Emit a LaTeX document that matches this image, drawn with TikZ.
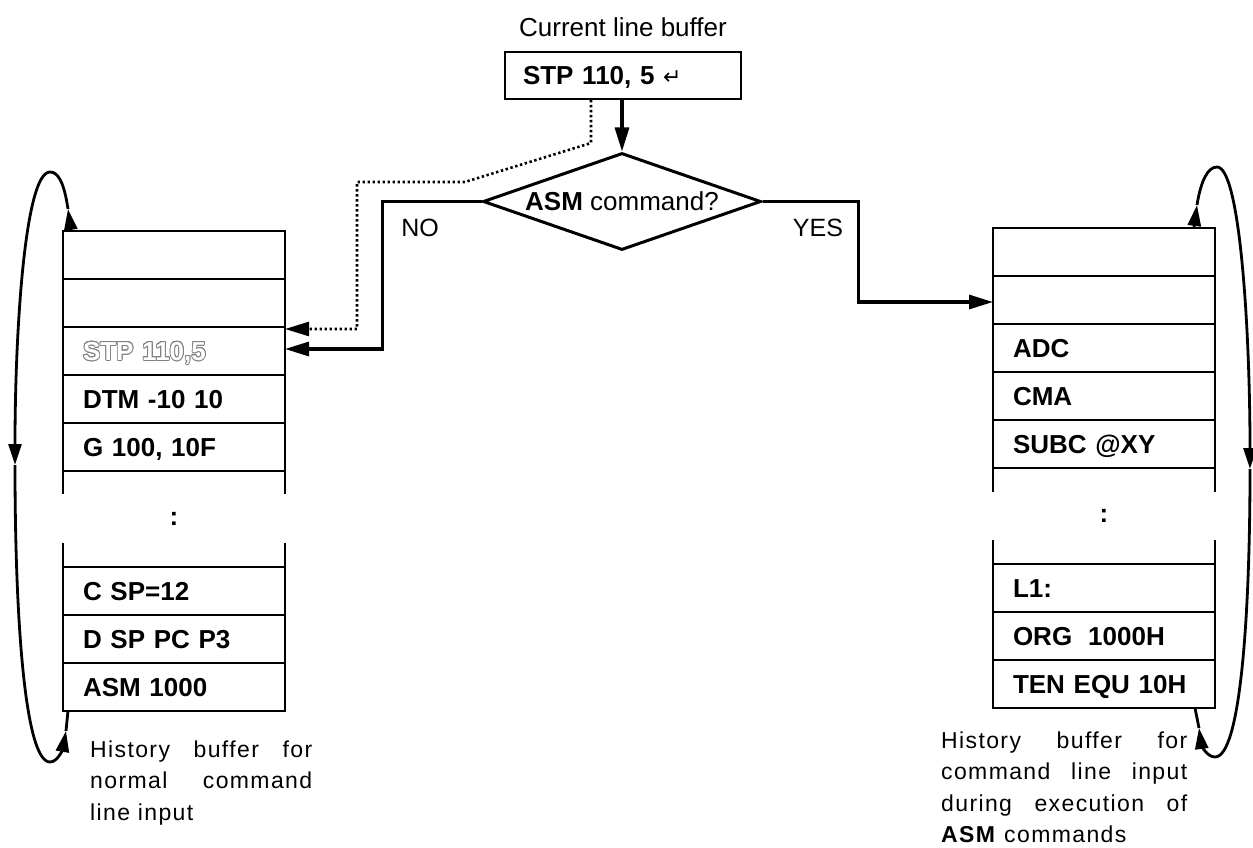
\documentclass[tikz,border=0pt]{standalone}
\usepackage{fontspec}
\setmainfont{Liberation Sans}
\newfontfamily\dvfont{DejaVu Sans}
\usepackage{contour}
\contourlength{0.8pt}
\usetikzlibrary{shapes.geometric,arrows.meta,calc}
\begin{document}
\begin{tikzpicture}[x=1pt,y=-1pt,
  row/.style={draw, line width=2pt, rectangle, minimum height=48pt, text width=182pt,
    inner xsep=20pt, inner ysep=0pt, align=left, font=\bfseries\fontsize{26}{30}\selectfont,
    text height=18.6pt, text depth=0pt, outer sep=0pt},
  gaprow/.style={draw, line width=2pt, rectangle, minimum height=96pt, minimum width=222pt, inner sep=0pt, outer sep=0pt},
  colon/.style={font=\bfseries\fontsize{26}{30}\selectfont, inner sep=0pt},
  arr/.style={line width=3.2pt, -{Triangle[length=24pt,width=14pt]}},
  dotarr/.style={line width=2.6pt, dash pattern=on 2.4pt off 2.6pt, -{Triangle[length=24pt,width=14pt]}},
  lbl/.style={font=\fontsize{25}{28}\selectfont, inner sep=0pt},
  lab/.style={font=\fontsize{23}{31.5}\selectfont\addfontfeatures{LetterSpace=6}, inner sep=0pt},
  loopline/.style={line width=2.8pt},
  looparr/.style={line width=2.8pt, -{Triangle[length=21pt,width=13pt]}}
]
\useasboundingbox (0,0) rectangle (1253,848);

% current line buffer
\node[lbl, anchor=base, font=\fontsize{26}{30}\selectfont] (title) at (623,37) {Current line buffer};
\node[draw, line width=2pt, rectangle, minimum width=236pt, minimum height=47pt, text width=200pt,
  inner xsep=18pt, inner ysep=0pt, align=left, font=\bfseries\fontsize{26}{30}\selectfont,
  text height=18.6pt, text depth=0pt] (cur) at (623,75.5)
  {STP 110, 5 {\dvfont\mdseries\fontsize{22}{24}\selectfont ↵}};

% decision
\node[draw, diamond, aspect=2.87, minimum width=278pt, minimum height=97pt, inner sep=0pt,
  line width=3pt, font=\fontsize{26}{30}\selectfont] (dia) at (622,201.5) {\textbf{ASM} command?};

% left stack
\node[row] (L1) at (174,255) {};
\node[row] (L2) at (174,303) {};
\node[row] (L3) at (174,351) {\contour{gray}{\textcolor{white}{STP 110,5}}};
\node[row] (L4) at (174,399) {DTM -10 10};
\node[row] (L5) at (174,447) {G 100, 10F};
\node[gaprow] (Lg) at (174,519) {};
\fill[white] ($(Lg.west)+(-4,-25)$) rectangle ($(Lg.east)+(4,24)$);
\node[colon] (Lc) at (Lg.center) {:};
\node[row] (L6) at (174,591) {C SP=12};
\node[row] (L7) at (174,639) {D SP PC P3};
\node[row] (L8) at (174,687) {ASM 1000};

% right stack
\node[row] (R1) at (1104,252) {};
\node[row] (R2) at (1104,300) {};
\node[row] (R3) at (1104,348) {ADC};
\node[row] (R4) at (1104,396) {CMA};
\node[row] (R5) at (1104,444) {SUBC @XY};
\node[gaprow] (Rg) at (1104,516) {};
\fill[white] ($(Rg.west)+(-4,-24)$) rectangle ($(Rg.east)+(4,24)$);
\node[colon] (Rc) at (Rg.center) {:};
\node[row] (R6) at (1104,588) {L1:};
\node[row] (R7) at (1104,636) {ORG\hspace{16pt}1000H};
\node[row] (R8) at (1104,684) {TEN EQU 10H};

% connectors
\draw[arr] (cur.south -| dia.north) -- (dia.north);
\draw[dotarr] ($(cur.south west)+(87,0)$) -- ++(0,43) -- (465,182) -- (357,182) |- ($(L3.north east)+(0,2)$);
\draw[arr] (dia.west) -- ++(-99,0) |- ($(L3.east)+(0,-2)$);
\draw[arr] (dia.east) -- ++(96,0) |- ($(R2.west)+(0,2)$);
\node[lbl, anchor=base] (no) at (420,236) {NO};
\node[lbl, anchor=base] (yes) at (818,236) {YES};

% left loop
\coordinate (lA) at ($(L1.north west)+(8,0)$);
\coordinate (lB) at (68,209);
\coordinate (lD) at (15,465);
\coordinate (lF) at (66,731);
\coordinate (lG) at ($(L8.south west)+(5,0)$);
\draw[looparr] (lA) -- (lB);
\draw[looparr] (lB) .. controls (64,182) and (58,172) .. (50,172)
  .. controls (25,172) and (15,330) .. (lD);
\draw[looparr] (lD) .. controls (15,620) and (25,762) .. (50,762)
  .. controls (58,762) and (63,748) .. (lF);
\draw[loopline] (lF) -- (lG);

% right loop
\coordinate (rA) at ($(R1.north east)+(-21,0)$);
\coordinate (rB) at (1197,205);
\coordinate (rD) at (1250,469);
\coordinate (rF) at (1199,728);
\coordinate (rG) at ($(R8.south east)+(-20,0)$);
\draw[looparr] (rA) -- (rB);
\draw[looparr] (rB) .. controls (1201,180) and (1208,167) .. (1217,167)
  .. controls (1240,167) and (1250,330) .. (rD);
\draw[looparr] (rD) .. controls (1250,620) and (1240,757) .. (1215,757)
  .. controls (1206,757) and (1201,743) .. (rF);
\draw[loopline] (rF) -- (rG);

% captions
\node[lab, anchor=base west] (capL) at (90,757) {\parbox[t]{222pt}{\makebox[222pt][s]{History buffer for}\\\makebox[222pt][s]{normal command}\\line input}};
\node[lab, anchor=base west] (capR) at (941,748) {\parbox[t]{246pt}{\makebox[246pt][s]{History buffer for}\\\makebox[246pt][s]{command line input}\\\makebox[246pt][s]{during execution of}\\\textbf{ASM} commands}};
\end{tikzpicture}
\end{document}
